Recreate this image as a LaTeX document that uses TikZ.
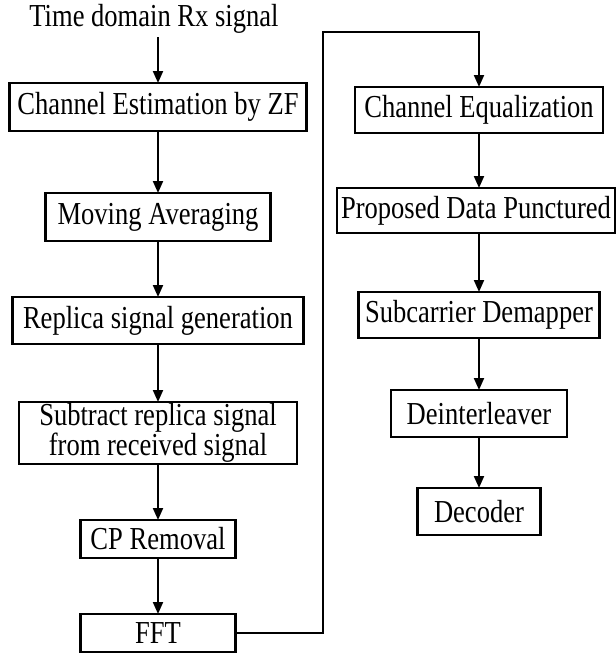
\documentclass[tikz,border=0pt]{standalone}
\usepackage{fontspec}
\setmainfont[FakeStretch=0.83]{Liberation Serif}
\usetikzlibrary{arrows.meta,positioning}

\begin{document}
\begin{tikzpicture}[x=1pt,y=-1pt,->,>={Triangle[length=12pt,width=10pt]},
line width=2pt,node distance=56pt,font=\fontsize{32}{28}\selectfont]
\tikzstyle{block}=[draw=black,rectangle,line width=2.6pt,inner sep=0pt,outer sep=0pt,
minimum height=47pt,align=center]
\useasboundingbox (0,0) rectangle (616,654);
\node[anchor=base] (rx) at (154,26) {Time domain Rx signal};
% left column
\node[block,minimum width=297pt,minimum height=48pt] (est) at (158,107) {Channel Estimation by ZF};
\node[block,minimum width=225pt,minimum height=48pt] (avg) [below=62pt of est] {Moving Averaging};
\node[block,minimum width=291pt] (rep) [below=56pt of avg] {Replica signal generation};
\node[block,minimum width=278pt,minimum height=62pt] (sub) [below=58pt of rep]
  {Subtract replica signal\\from received signal};
\node[block,minimum width=155pt,minimum height=38pt] (cp) [below=56pt of sub] {CP Removal};
\node[block,minimum width=155pt,minimum height=38pt] (fft) [below=56pt of cp] {FFT};
% right column
\node[block,minimum width=248pt,minimum height=46pt] (eq) at (479,110) {Channel Equalization};
\node[block,minimum width=278pt,minimum height=45pt] (punc) [below=55pt of eq,xshift=-3pt]
  {Proposed Data Punctured};
\node[block,minimum width=241pt,minimum height=46pt] (demap) [below=59pt of punc,xshift=3pt]
  {Subcarrier Demapper};
\node[block,minimum width=176pt] (deint) [below=52pt of demap] {Deinterleaver};
\node[block,minimum width=123pt] (dec) [below=51pt of deint] {Decoder};
\coordinate (turn) at (323,32);
\draw (rx.south -| est.north) -- (est);
\path (est) edge (avg)
      (avg) edge (rep)
      (rep) edge (sub)
      (sub) edge (cp)
      (cp) edge (fft);
\draw (fft) -| (turn) -| (eq);
\path (eq) edge (punc.north -| eq.south)
      (punc.south -| demap.north) edge (demap)
      (demap) edge (deint)
      (deint) edge (dec);
\end{tikzpicture}
\end{document}
